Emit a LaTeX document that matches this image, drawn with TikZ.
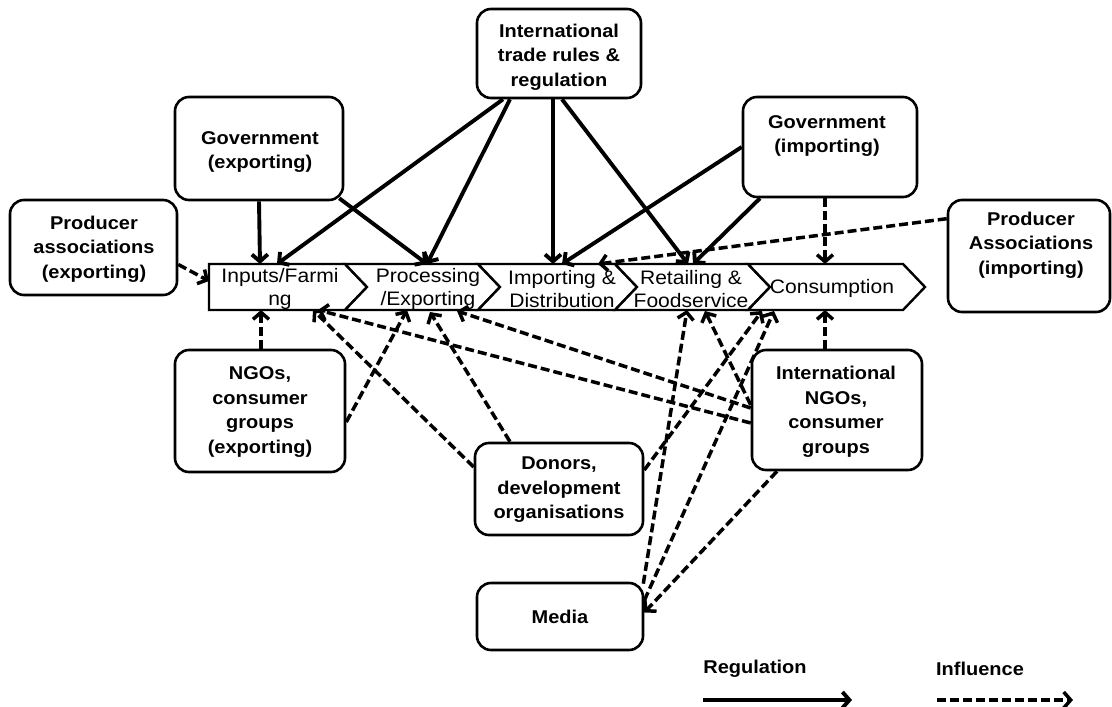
\documentclass[tikz,border=0pt]{standalone}
\usepackage{fontspec}
\setmainfont{Liberation Sans}[FakeStretch=1.08]
\usetikzlibrary{arrows.meta}

\begin{document}
\begin{tikzpicture}[x=1pt,y=-1pt,
  box/.style={draw, line width=2.6pt, rounded corners=14pt, inner sep=0pt},
  boxtext/.style={align=center, inner sep=0pt, font=\bfseries\fontsize{18.5}{24.5}\selectfont},
  stagetext/.style={align=center, inner sep=0pt, font=\fontsize{19.5}{23}\selectfont},
  stage/.style={draw, line width=2.4pt, line join=miter, fill=white},
  reg/.style={line width=3.9pt, -{Straight Barb[length=7pt,width=16pt]}},
  infl/.style={line width=3.5pt, dash pattern=on 9pt off 4pt, -{Straight Barb[length=7pt,width=16pt]}},
]
\useasboundingbox (0,0) rectangle (1112,707);

% value chain stages
\draw[stage] (209,264) -- (345,264) -- (367,287) -- (345,310) -- (209,310) -- cycle;
\draw[stage] (345,264) -- (478,264) -- (500,287) -- (478,310) -- (345,310) -- (367,287) -- cycle;
\draw[stage] (478,264) -- (615,264) -- (637,287) -- (615,310) -- (478,310) -- (500,287) -- cycle;
\draw[stage] (615,264) -- (748,264) -- (770,287) -- (748,310) -- (615,310) -- (637,287) -- cycle;
\draw[stage] (748,264) -- (903,264) -- (925,287) -- (903,310) -- (748,310) -- (770,287) -- cycle;
\node[stagetext] (inp) at (280,289) {Inputs/Farmi\\ng};
\node[stagetext] (pro) at (428,289) {Processing\\/Exporting};
\node[stagetext] (imp) at (562,289) {Importing \&\\Distribution};
\node[stagetext] (ret) at (691,289) {Retailing \&\\Foodservice};
\node[stagetext] (con) at (832,288) {Consumption};

% actors
\node[box, minimum width=164pt, minimum height=89pt] (itr) at (559,53.5) {};
\node[boxtext] (itrt) at (559,57) {International\\trade rules \&\\regulation};
\node[box, minimum width=168pt, minimum height=103pt] (gexp) at (259,148.5) {};
\node[boxtext] (gexpt) at (260,152) {Government\\(exporting)};
\node[box, minimum width=174pt, minimum height=100pt] (gimp) at (830,147) {};
\node[boxtext] (gimpt) at (827,136) {Government\\(importing)};
\node[box, minimum width=167pt, minimum height=95pt] (paexp) at (93.5,247.5) {};
\node[boxtext] (paexpt) at (94,249) {Producer\\associations\\(exporting)};
\node[box, minimum width=162pt, minimum height=112pt] (paimp) at (1029,256) {};
\node[boxtext] (paimpt) at (1031,245) {Producer\\Associations\\(importing)};
\node[box, minimum width=170pt, minimum height=122pt] (ngoexp) at (260,411) {};
\node[boxtext] (ngoexpt) at (260,412) {NGOs,\\consumer\\groups\\(exporting)};
\node[box, minimum width=168pt, minimum height=92pt] (don) at (559,489) {};
\node[boxtext] (dont) at (559,490) {Donors,\\development\\organisations};
\node[box, minimum width=170pt, minimum height=120pt] (ingo) at (837,410) {};
\node[boxtext] (ingot) at (836,412) {International\\NGOs,\\consumer\\groups};
\node[box, minimum width=166pt, minimum height=67pt] (med) at (560,616.5) {};
\node[boxtext] (medt) at (560,617) {Media};

% attachment points on the stages
\coordinate (inTopA) at (260,264);
\coordinate (inTopB) at (277,264);
\coordinate (prTop) at (427,264);
\coordinate (imTopA) at (553,264);
\coordinate (imTopB) at (562,264);
\coordinate (imTopC) at (598,264);
\coordinate (reTopA) at (688,264);
\coordinate (reTopB) at (693,264);
\coordinate (coTop) at (825,264);
\coordinate (inLeft) at (209,281);
\coordinate (inBotA) at (261,310);
\coordinate (inBotB) at (313,310);
\coordinate (inBotC) at (318,310);
\coordinate (prBotA) at (407,310);
\coordinate (prBotB) at (430,312);
\coordinate (prBotC) at (457,311);
\coordinate (reBotA) at (687,310);
\coordinate (reBotB) at (705,311);
\coordinate (coBotA) at (762,311);
\coordinate (coBotB) at (774,311);
\coordinate (coBotC) at (825,310);

% regulation
\draw[reg] (gexp.south) -- (inTopA);
\draw[reg] ([xshift=-5pt,yshift=3pt]gexp.south east) -- (prTop);
\draw[reg] ([xshift=-56pt]itr.south) -- (inTopB);
\draw[reg] ([xshift=-49pt]itr.south) -- (prTop);
\draw[reg] ([xshift=-6pt]itr.south) -- (imTopA);
\draw[reg] ([xshift=3pt]itr.south) -- (reTopA);
\draw[reg] (gimp.west) -- (imTopB);
\draw[reg] ([xshift=-70pt]gimp.south) -- (reTopB);

% influence
\draw[infl] ([xshift=-5pt]gimp.south) -- (coTop);
\draw[infl] ([yshift=-20pt]paimp.north west) -- (imTopC);
\draw[infl] ([yshift=-17pt]paexp.east) -- (inLeft);
\draw[infl] ([xshift=1pt]ngoexp.north) -- (inBotA);
\draw[infl] ([yshift=-11pt]ngoexp.east) -- (prBotA);
\draw[infl] ([yshift=22pt]don.west) -- (inBotB);
\draw[infl] ([xshift=-49pt]don.north) -- (prBotB);
\draw[infl] ([yshift=19pt]don.east) -- (coBotA);
\draw[infl] ([yshift=-13pt]ingo.west) -- (inBotC);
\draw[infl] ([yshift=2pt]ingo.west) -- (prBotC);
\draw[infl] ([yshift=5pt]ingo.west) -- (reBotB);
\draw[infl] ([xshift=-12pt]ingo.north) -- (coBotC);
\draw[infl] ([xshift=-60pt]ingo.south) -- ([yshift=4pt]med.east);
\draw[infl] ([xshift=-1pt,yshift=-2pt]med.north east) -- (reBotA);
\draw[infl] ([yshift=16pt]med.east) -- (coBotB);

% legend
\node[boxtext] (lreg) at (755,669) {Regulation};
\node[boxtext] (linf) at (980,669) {Influence};
\coordinate (lregA) at (703,700);
\coordinate (lregB) at (852,700);
\coordinate (linfA) at (937,700);
\coordinate (linfB) at (1073,700);
\draw[reg] (lregA) -- (lregB);
\draw[infl] (linfA) -- (linfB);
\end{tikzpicture}
\end{document}
